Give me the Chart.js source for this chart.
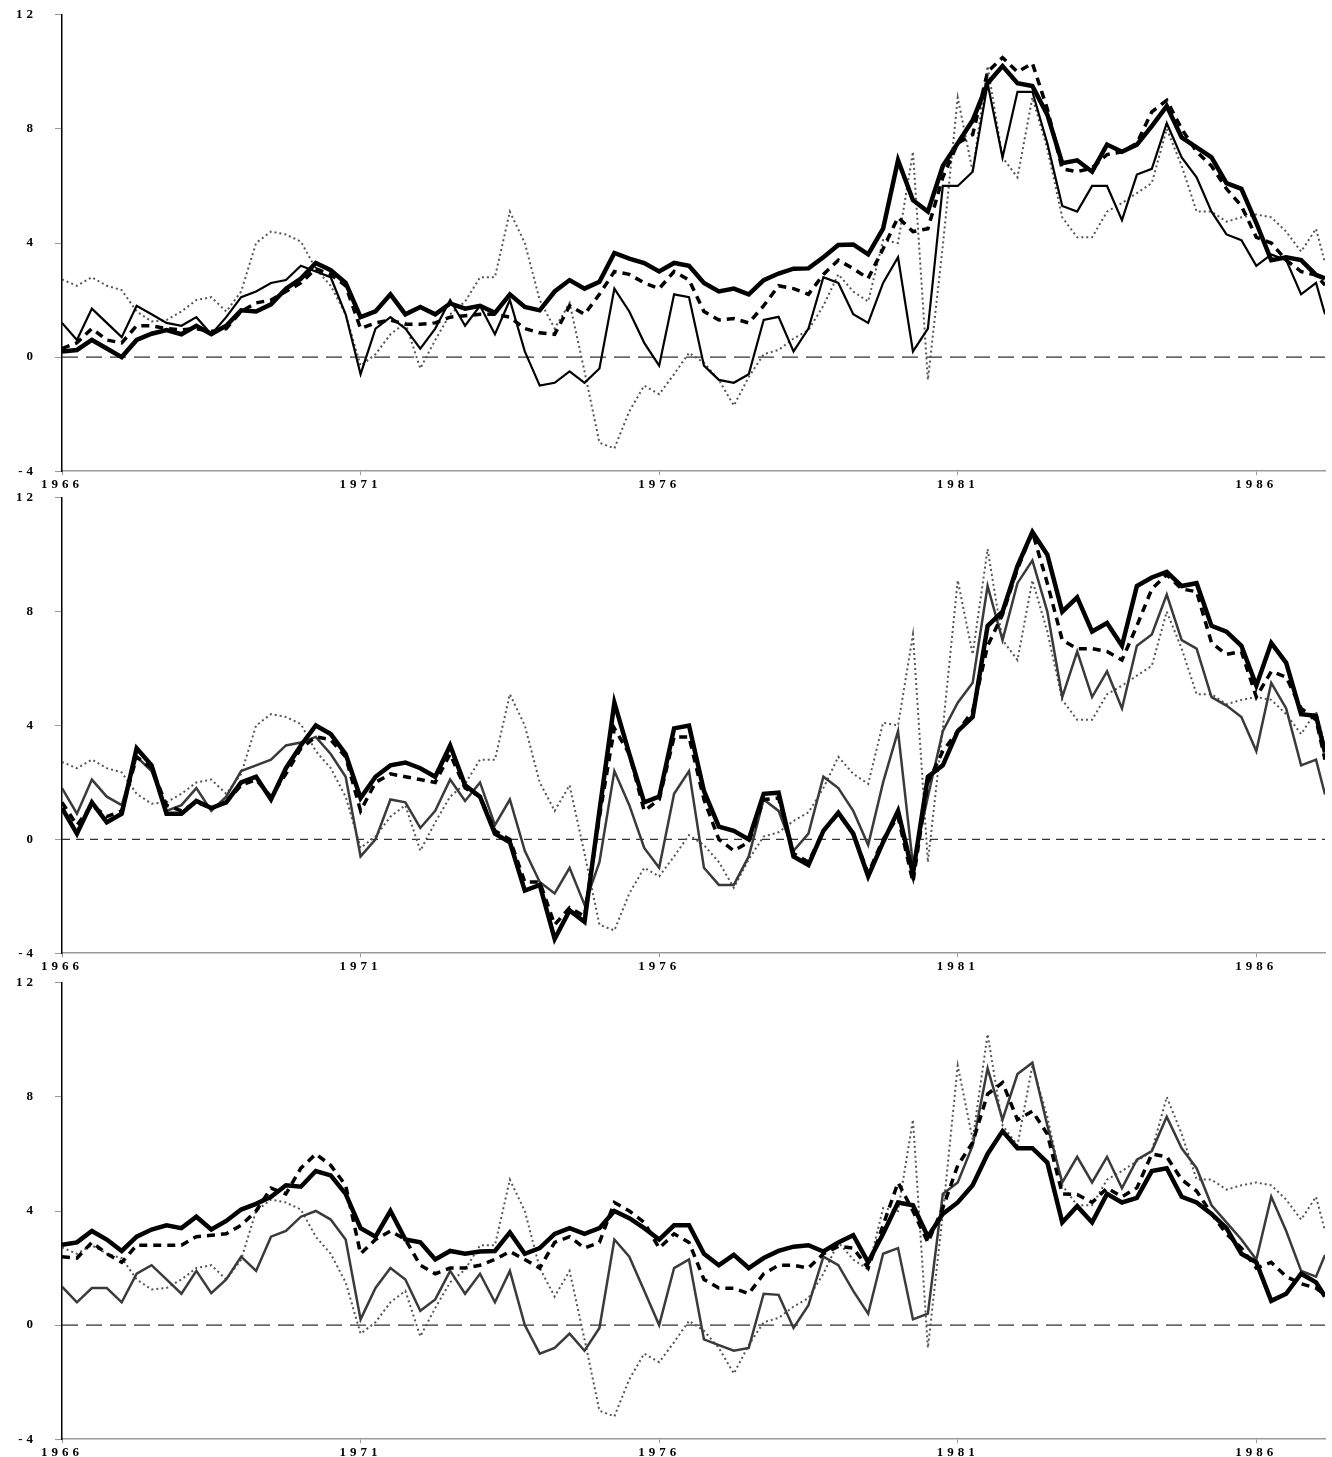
<!DOCTYPE html>
<html>
<head>
<meta charset="utf-8">
<script src="https://cdn.jsdelivr.net/npm/chart.js@4.4.1/dist/chart.umd.min.js"></script>
<style>
  body { margin: 0; background: #fff; width: 1332px; height: 1457px; position: relative; overflow: hidden; }
  canvas { position: absolute; left: 0; }
</style>
</head>
<body>
<canvas id="c1" width="1332" height="508" style="top:-11px"></canvas>
<canvas id="c2" width="1332" height="507" style="top:472px"></canvas>
<canvas id="c3" width="1332" height="508" style="top:957px"></canvas>
<script>
// quarterly dates, last point is early 1987
const fechas = [];
for (let i = 0; i <= 84; i++) fechas.push(1966 + i * 0.25);
fechas.push(1987.15);

const xTicks = [1966, 1971, 1976, 1981, 1986];
const yTicks = [-4, 0, 4, 8, 12];

// dotted series, same in all three panels
const punteada = [
  2.72, 2.5, 2.8, 2.5,   2.35, 1.6, 1.25, 1.3,   1.6, 2.0, 2.1, 1.6,   2.3, 4.0, 4.4, 4.3,
  4.05, 3.1, 2.5, 1.5,   -0.3, 0.1, 0.8, 1.2,    -0.4, 0.6, 1.5, 1.95, 2.8, 2.8, 5.1, 4.0,
  2.0, 1.0, 1.9, -0.5,   -3.0, -3.2, -1.9, -1.0, -1.3, -0.6, 0.15, -0.2, -0.8, -1.7, -0.7, 0.1,
  0.25, 0.65, 0.95, 1.8, 2.9, 2.3, 1.95, 4.1,   4.0, 7.2, -0.8, 3.9,  9.1, 6.5, 10.2, 7.0,
  6.3, 9.1, 7.3, 4.9,    4.2, 4.2, 5.1, 5.4,    5.75, 6.1, 8.0, 6.7,  5.1, 5.1, 4.75, 4.9,
  5.0, 4.9, 4.4, 3.7,    4.5, 3.3
];

// panel 1
const p1Gruesa = [
  0.2, 0.25, 0.6, 0.3,   0.0, 0.6, 0.82, 0.95,  0.8, 1.1, 0.8, 1.1,   1.64, 1.6, 1.85, 2.4,
  2.75, 3.3, 3.05, 2.6,  1.4, 1.6, 2.2, 1.5,    1.76, 1.5, 1.88, 1.7, 1.8, 1.55, 2.2, 1.76,
  1.64, 2.3, 2.7, 2.4,   2.64, 3.65, 3.45, 3.3, 3.0, 3.3, 3.2, 2.6,   2.3, 2.4, 2.2, 2.7,
  2.93, 3.1, 3.11, 3.5,  3.93, 3.95, 3.6, 4.5,  6.9, 5.5, 5.1, 6.7,   7.5, 8.3, 9.6, 10.2,
  9.6, 9.5, 8.5, 6.8,    6.9, 6.5, 7.45, 7.2,   7.45, 8.1, 8.8, 7.7,  7.35, 7.0, 6.1, 5.9,
  4.7, 3.4, 3.5, 3.4,    2.88, 2.76
];
const p1Guiones = [
  0.3, 0.5, 1.0, 0.6,    0.5, 1.1, 1.1, 1.0,    0.95, 1.0, 0.9, 1.0,  1.6, 1.9, 2.0, 2.3,
  2.6, 3.1, 2.9, 2.5,    1.0, 1.2, 1.3, 1.15,   1.15, 1.2, 1.4, 1.45, 1.5, 1.5, 1.4, 1.0,
  0.85, 0.8, 1.8, 1.5,   2.2, 3.0, 2.9, 2.6,    2.4, 3.0, 2.7, 1.6,   1.3, 1.35, 1.2, 1.8,
  2.5, 2.4, 2.2, 2.9,    3.4, 3.1, 2.76, 3.8,   4.9, 4.4, 4.5, 6.3,   7.5, 7.8, 10.0, 10.5,
  10.0, 10.3, 8.7, 6.6,  6.5, 6.63, 7.1, 7.2,   7.5, 8.6, 9.0, 8.0,   7.2, 6.7, 5.9, 5.3,
  4.2, 4.0, 3.4, 3.0,    2.88, 2.52
];
const p1Fina = [
  1.2, 0.6, 1.7, 1.2,    0.7, 1.8, 1.5, 1.2,    1.1, 1.4, 0.8, 1.4,   2.1, 2.3, 2.6, 2.7,
  3.2, 3.0, 2.8, 1.5,    -0.6, 1.0, 1.4, 1.0,   0.3, 1.0, 2.0, 1.1,   1.8, 0.8, 2.0, 0.2,
  -1.0, -0.9, -0.5, -0.9, -0.4, 2.4, 1.6, 0.5,  -0.3, 2.2, 2.1, -0.3, -0.8, -0.9, -0.6, 1.3,
  1.41, 0.2, 1.0, 2.8,   2.6, 1.5, 1.2, 2.6,    3.5, 0.2, 1.0, 6.0,   6.0, 6.5, 9.6, 7.0,
  9.3, 9.3, 7.5, 5.3,    5.1, 6.0, 6.0, 4.8,    6.4, 6.6, 8.2, 7.0,   6.3, 5.1, 4.3, 4.1,
  3.2, 3.6, 3.4, 2.2,    2.6, 1.5
];

// panel 2
const p2Gruesa = [
  1.1, 0.2, 1.3, 0.6,    0.9, 3.2, 2.6, 0.9,    0.9, 1.35, 1.1, 1.3,  2.0, 2.2, 1.4, 2.5,
  3.3, 4.0, 3.7, 3.0,    1.45, 2.2, 2.6, 2.7,   2.5, 2.2, 3.3, 1.9,   1.5, 0.2, -0.1, -1.8,
  -1.6, -3.5, -2.5, -2.9, 1.0, 4.8, 3.0, 1.3,   1.5, 3.9, 4.0, 1.7,   0.45, 0.3, 0.0, 1.6,
  1.64, -0.6, -0.9, 0.3, 0.94, 0.2, -1.3, -0.1, 1.0, -1.2, 2.2, 2.6,  3.8, 4.3, 7.5, 8.0,
  9.6, 10.8, 10.0, 8.0,  8.5, 7.3, 7.6, 6.8,    8.9, 9.2, 9.4, 8.9,   9.0, 7.5, 7.3, 6.8,
  5.4, 6.9, 6.2, 4.4,    4.34, 3.05
];
const p2Guiones = [
  1.3, 0.5, 1.2, 0.8,    1.0, 2.9, 2.5, 1.2,    1.0, 1.3, 1.1, 1.3,   1.9, 2.1, 1.5, 2.3,
  3.2, 3.6, 3.5, 2.9,    1.0, 2.0, 2.3, 2.2,    2.1, 2.0, 3.0, 1.8,   1.5, 0.3, 0.0, -1.5,
  -1.5, -3.0, -2.4, -2.7, 0.8, 3.9, 3.0, 1.0,   1.4, 3.6, 3.6, 1.4,   0.0, -0.4, -0.1, 1.4,
  1.45, -0.5, -0.8, 0.3, 0.9, 0.2, -1.2, 0.0,   0.8, -1.5, 2.0, 3.1,  3.8, 4.5, 6.8, 7.9,
  9.5, 10.8, 9.0, 7.0,   6.7, 6.7, 6.6, 6.3,    7.5, 8.8, 9.3, 8.8,   8.7, 6.9, 6.5, 6.6,
  5.0, 5.9, 5.7, 4.6,    4.2, 2.8
];
const p2Fina = [
  1.8, 0.9, 2.1, 1.5,    1.2, 2.9, 2.4, 1.0,    1.2, 1.8, 1.0, 1.5,   2.4, 2.6, 2.8, 3.3,
  3.4, 3.6, 3.0, 2.2,    -0.6, 0.0, 1.4, 1.3,   0.4, 1.0, 2.1, 1.35,  2.0, 0.5, 1.4, -0.4,
  -1.5, -1.9, -1.0, -2.3, -0.8, 2.4, 1.2, -0.3, -1.0, 1.6, 2.4, -1.0, -1.6, -1.6, -0.6, 1.4,
  1.0, -0.4, 0.2, 2.2,   1.8, 1.0, -0.2, 2.0,   3.8, -0.9, 1.5, 3.8,  4.8, 5.5, 8.9, 7.0,
  9.0, 9.8, 8.0, 5.0,    6.6, 5.0, 5.9, 4.6,    6.8, 7.2, 8.6, 7.0,   6.7, 5.0, 4.7, 4.3,
  3.1, 5.5, 4.6, 2.6,    2.8, 1.58
];

// panel 3
const p3Gruesa = [
  2.82, 2.9, 3.3, 3.0,   2.6, 3.1, 3.35, 3.5,   3.4, 3.8, 3.35, 3.65, 4.05, 4.25, 4.5, 4.9,
  4.85, 5.4, 5.25, 4.6,  3.4, 3.1, 4.0, 3.0,    2.9, 2.3, 2.6, 2.5,   2.58, 2.6, 3.25, 2.5,
  2.7, 3.2, 3.4, 3.2,    3.4, 4.0, 3.75, 3.4,   3.0, 3.5, 3.5, 2.5,   2.1, 2.46, 2.0, 2.35,
  2.6, 2.75, 2.8, 2.58,  2.9, 3.15, 2.2, 3.2,   4.3, 4.2, 3.1, 3.9,   4.3, 4.9, 6.0, 6.8,
  6.2, 6.2, 5.7, 3.6,    4.17, 3.6, 4.6, 4.3,   4.46, 5.4, 5.5, 4.5,  4.3, 3.9, 3.4, 2.5,
  2.2, 0.85, 1.1, 1.8,   1.5, 1.0
];
const p3Guiones = [
  2.4, 2.35, 2.9, 2.5,   2.2, 2.8, 2.8, 2.8,    2.8, 3.1, 3.15, 3.2,  3.5, 4.0, 4.8, 4.6,
  5.5, 6.0, 5.6, 4.9,    2.5, 3.0, 3.3, 3.0,    2.1, 1.8, 2.0, 2.0,   2.1, 2.3, 2.58, 2.3,
  2.0, 2.9, 3.1, 2.7,    2.9, 4.3, 4.0, 3.6,    2.7, 3.2, 2.9, 1.6,   1.3, 1.29, 1.1, 1.8,
  2.1, 2.1, 2.0, 2.5,    2.76, 2.7, 2.0, 3.5,   5.0, 4.0, 2.9, 4.1,   5.6, 6.4, 8.1, 8.5,
  7.2, 7.5, 6.7, 4.6,    4.58, 4.3, 4.8, 4.5,   4.81, 6.0, 5.9, 5.1,  4.7, 3.9, 3.2, 2.7,
  2.0, 2.2, 1.7, 1.45,   1.3, 1.06
];
const p3Fina = [
  1.35, 0.8, 1.3, 1.3,   0.8, 1.8, 2.1, 1.6,    1.1, 1.9, 1.12, 1.6,  2.4, 1.9, 3.1, 3.3,
  3.8, 4.0, 3.7, 3.0,    0.2, 1.3, 2.0, 1.6,    0.5, 0.9, 1.9, 1.1,   1.8, 0.8, 1.9, 0.0,
  -1.0, -0.8, -0.3, -0.9, -0.1, 3.0, 2.4, 1.2,  0.0, 2.0, 2.3, -0.5,  -0.7, -0.9, -0.8, 1.1,
  1.06, -0.1, 0.7, 2.4,  2.1, 1.2, 0.4, 2.5,    2.7, 0.2, 0.4, 4.6,   5.0, 6.3, 9.0, 7.2,
  8.8, 9.2, 7.0, 5.0,    5.9, 5.0, 5.9, 4.8,    5.8, 6.1, 7.3, 6.2,   5.5, 4.2, 3.6, 3.0,
  2.3, 4.5, 3.3, 1.9,    1.7, 2.46
];

const fuente = { family: "'Liberation Serif', 'Times New Roman', serif", size: 13, weight: 'bold' };

const toXY = arr => fechas.map((x, i) => ({ x: x, y: arr[i] }));

// horizontal dashed line at zero
const lineaCero = {
  id: 'lineaCero',
  beforeDatasetsDraw(chart, args, opts) {
    const { ctx, chartArea, scales } = chart;
    const y = scales.y.getPixelForValue(0);
    ctx.save();
    ctx.strokeStyle = '#333';
    ctx.lineWidth = 1.2;
    ctx.setLineDash(opts.dash || [16, 8]);
    ctx.beginPath();
    ctx.moveTo(chartArea.left, y);
    ctx.lineTo(chartArea.right, y);
    ctx.stroke();
    ctx.restore();
  }
};

// wide-spaced tick labels
const espaciado = {
  id: 'espaciado',
  beforeDraw(chart) { chart.ctx.letterSpacing = '4px'; }
};

function crearPanel(id, gruesa, guiones, fina, colorFina, anchoFina, dashCero) {
  const ctx = document.getElementById(id).getContext('2d');
  new Chart(ctx, {
    type: 'line',
    data: {
      datasets: [
        { data: toXY(gruesa), borderColor: '#000', borderWidth: 4.5 },
        { data: toXY(guiones), borderColor: '#000', borderWidth: 3.5, borderDash: [8, 6] },
        { data: toXY(fina), borderColor: colorFina, borderWidth: anchoFina },
        { data: toXY(punteada), borderColor: '#555', borderWidth: 2, borderDash: [2, 3] }
      ]
    },
    options: {
      responsive: false,
      devicePixelRatio: 1,
      animation: false,
      parsing: false,
      elements: { point: { radius: 0 }, line: { tension: 0, borderCapStyle: 'butt', borderJoinStyle: 'miter' } },
      layout: { padding: { top: 1, right: 7, left: 0, bottom: 0 } },
      plugins: {
        legend: { display: false },
        tooltip: { enabled: false },
        lineaCero: { dash: dashCero }
      },
      scales: {
        x: {
          type: 'linear',
          min: 1966,
          max: 1987.15,
          afterBuildTicks: s => { s.ticks = xTicks.map(v => ({ value: v })); },
          afterFit: s => { s.height = 21; },
          grid: { drawOnChartArea: false, drawTicks: true, tickLength: 4, color: '#999' },
          border: { color: '#999', width: 1.5 },
          ticks: { color: '#000', font: fuente, padding: 2, maxRotation: 0, callback: v => String(v) }
        },
        y: {
          min: -4,
          max: 12,
          afterBuildTicks: s => { s.ticks = yTicks.map(v => ({ value: v })); },
          afterFit: s => { s.width = 62; },
          grid: { drawOnChartArea: false, drawTicks: true, tickLength: 7, color: '#999' },
          border: { color: '#000', width: 1.5 },
          ticks: { color: '#000', font: { family: fuente.family, size: 13, weight: 'bold' }, padding: 18, callback: v => String(v) }
        }
      }
    },
    plugins: [lineaCero, espaciado]
  });
}

crearPanel('c1', p1Gruesa, p1Guiones, p1Fina, '#000', 2.2, [16, 8]);
crearPanel('c2', p2Gruesa, p2Guiones, p2Fina, '#3a3a3a', 2.5, [8, 6]);
crearPanel('c3', p3Gruesa, p3Guiones, p3Fina, '#3a3a3a', 2.5, [16, 8]);
</script>
</body>
</html>
